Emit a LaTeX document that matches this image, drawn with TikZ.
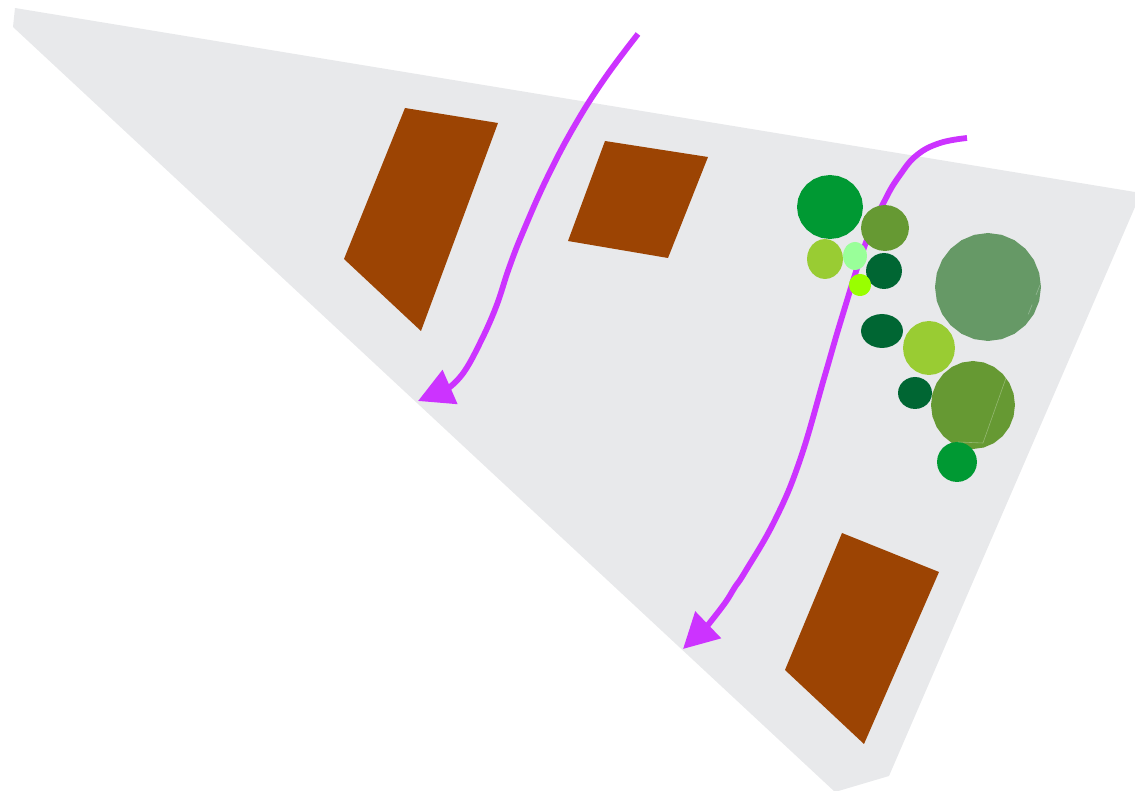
\documentclass[tikz,border=0pt]{standalone}
\usepackage{xcolor}
\usetikzlibrary{arrows.meta}
\definecolor{groundgray}{HTML}{E8E9EB}
\definecolor{housebrown}{HTML}{9C4403}
\definecolor{pathpink}{HTML}{CC33FF}
\definecolor{treeA}{HTML}{009933}
\definecolor{treeB}{HTML}{669933}
\definecolor{treeC}{HTML}{99CC33}
\definecolor{treeD}{HTML}{99FF99}
\definecolor{treeE}{HTML}{006633}
\definecolor{treeF}{HTML}{99FF00}
\definecolor{treeG}{HTML}{669966}
\tikzset{
  house/.style={fill=housebrown},
  walkway/.style={line width=0.058cm, color=pathpink, -{Triangle[length=0.35cm,width=0.36cm]}},
  seam/.style={line width=0.006cm, color=white, opacity=0.3}
}
\begin{document}
\begin{tikzpicture}[x=0.01cm,y=-0.01cm]
\useasboundingbox (0,0) rectangle (1135,791);
\fill[groundgray] (15,8) -- (1135,192) -- (1135,207) -- (889,776) -- (835,792) -- (13,27) -- cycle;
\fill[house] (405,108) -- (498,123) -- (421,331) -- (344,259) -- cycle;
\fill[house] (605,141) -- (708,157) -- (668,258) -- (568,241) -- cycle;
\fill[house] (842,533) -- (939,572) -- (864,744) -- (785,670) -- cycle;
\draw[walkway] plot[smooth,tension=0.7] coordinates {(638,34) (605,78) (575,125) (547,178) (523,232) (509,268) (496,307) (480,343) (464,372) (450,387)} -- (418,401);
\draw[walkway] plot[smooth,tension=0.7] coordinates {(967,138) (940,143) (917,155) (900,175) (885,200) (865,245) (842,317) (825,375) (800,460) (775,520) (745,572) (735,587) (725,603) (708,625)} -- (683,649);
\foreach \cx/\cy/\rx/\ry/\col in {830/207/33/32/treeA, 885/228/24/23/treeB, 825/259/18/20/treeC, 855/256/12/14/treeD, 884/271/18/18/treeE, 860/285/11/11/treeF, 988/287/53/54/treeG, 882/331/21/17/treeE, 929/348/26/27/treeC, 915/393/17/16/treeE, 973/405/42/44/treeB, 957/462/20/20/treeA}
  \fill[\col] plot[samples=25,domain=0:360] ({\cx+\rx*cos(\x)},{\cy+\ry*sin(\x)}) -- cycle;
\draw[seam] (1006,378) -- (983,443) -- (958,442);
\draw[seam,dashed] (1040,285) -- (1026,320);
\end{tikzpicture}
\end{document}
